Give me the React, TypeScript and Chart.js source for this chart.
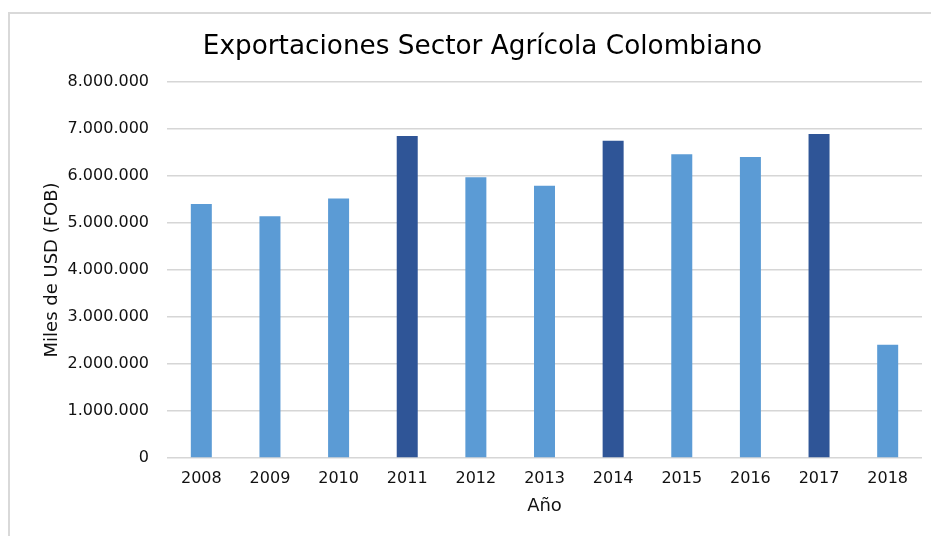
import React, { useEffect, useRef } from "react";
import { Chart, registerables } from "chart.js";

Chart.register(...registerables);

const years = ["2008", "2009", "2010", "2011", "2012", "2013", "2014", "2015", "2016", "2017", "2018"];
const exports = [5400000, 5140000, 5520000, 6850000, 5970000, 5790000, 6750000, 6460000, 6400000, 6890000, 2410000];
const highlightedYears = ["2011", "2014", "2017"];
const yTickValues = [0, 1000000, 2000000, 3000000, 4000000, 5000000, 6000000, 7000000, 8000000];

const chartTitle = "Exportaciones Sector Agrícola Colombiano";
const yTitle = "Miles de USD (FOB)";
const xTitle = "Año";

const LIGHT = "#5B9BD5";
const DARK = "#2F5597";
const FONT = "'DejaVu Sans', sans-serif";

function fmt(v: number): string {
  const s = Math.round(v).toString();
  return s.replace(/\B(?=(\d{3})+(?!\d))/g, ".");
}

export default function App() {
  const ref = useRef<HTMLCanvasElement | null>(null);

  useEffect(() => {
    if (!ref.current) return;
    const chart = new Chart(ref.current, {
      type: "bar",
      data: {
        labels: years,
        datasets: [
          {
            data: exports,
            backgroundColor: years.map((y) => (highlightedYears.includes(y) ? DARK : LIGHT)),
            barPercentage: 0.306,
            categoryPercentage: 1,
          },
        ],
      },
      options: {
        animation: false,
        responsive: false,
        layout: { padding: { left: 33, right: 9, top: 0, bottom: 0 } },
        plugins: {
          legend: { display: false },
          tooltip: { enabled: false },
          title: {
            display: true,
            text: chartTitle,
            color: "#000",
            font: { family: FONT, size: 26.3, weight: "normal", lineHeight: 1.2 },
            padding: { top: 17, bottom: 19.3 },
          },
        },
        scales: {
          x: {
            grid: { display: false },
            border: { display: false },
            ticks: {
              color: "#111",
              font: { family: FONT, size: 16 },
              padding: 3,
              maxRotation: 0,
            },
            title: {
              display: true,
              text: xTitle,
              color: "#111",
              font: { family: FONT, size: 18, lineHeight: 1.2 },
              padding: { top: 0, bottom: 19 },
            },
            afterFit: (scale: any) => {
              scale.height = 78;
            },
          },
          y: {
            min: 0,
            max: 8000000,
            grid: { color: "#d6d6d6", lineWidth: 1.5, drawTicks: false },
            border: { display: false },
            afterBuildTicks: (scale: any) => {
              scale.ticks = yTickValues.map((v) => ({ value: v }));
            },
            ticks: {
              color: "#111",
              font: { family: FONT, size: 16 },
              padding: 18,
              callback: (v: any) => fmt(Number(v)),
            },
            title: {
              display: true,
              text: yTitle,
              color: "#111",
              font: { family: FONT, size: 18, lineHeight: 1 },
              padding: { top: 0, bottom: 0 },
            },
            afterFit: (scale: any) => {
              scale.width = 124;
            },
          },
        },
      },
    });
    return () => chart.destroy();
  }, []);

  return (
    <div style={{ position: "absolute", left: 0, top: 0, width: 931, height: 536, overflow: "hidden", background: "#fff" }}>
      <div style={{ position: "absolute", left: 8, top: 12, width: 923, height: 2, background: "#d9d9d9" }} />
      <div style={{ position: "absolute", left: 8, top: 12, width: 2, height: 524, background: "#d9d9d9" }} />
      <canvas
        ref={ref}
        width={921}
        height={522}
        style={{ position: "absolute", left: 10, top: 14, width: 921, height: 522 }}
      />
    </div>
  );
}
